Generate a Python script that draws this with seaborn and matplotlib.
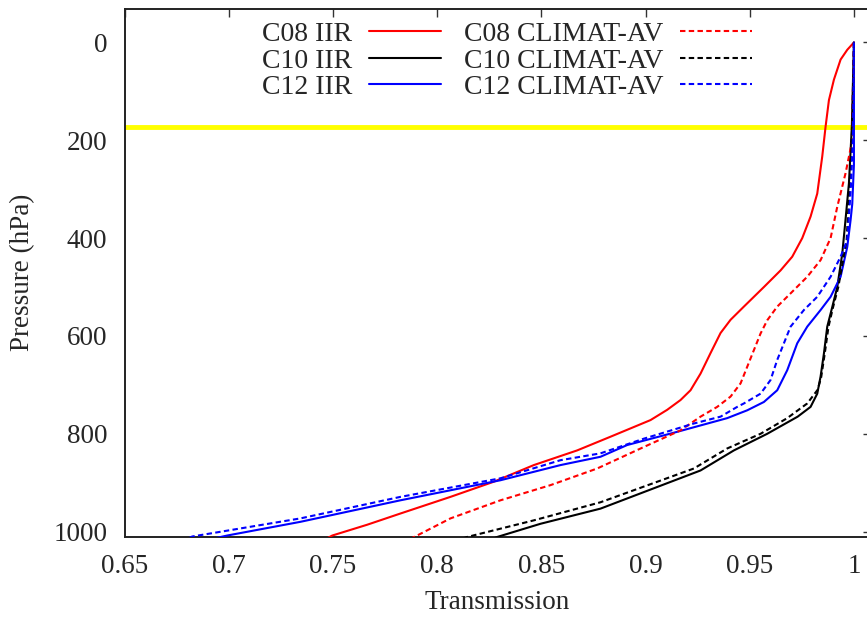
import numpy as np
import pandas as pd
import matplotlib
matplotlib.use("Agg")
import matplotlib.pyplot as plt
import seaborn as sns

# ---- data (transmission vs pressure) ----
c08_iir_T = [1.0, 0.9968, 0.9936, 0.9904, 0.9880, 0.9864, 0.9848, 0.9824, 0.9792, 0.9752, 0.9704, 0.9648,
             0.9568, 0.9472, 0.9408, 0.9360, 0.9312, 0.9264, 0.9216, 0.9168, 0.9104, 0.9024, 0.8832, 0.8672,
             0.8464, 0.8272, 0.8064, 0.7824, 0.7664, 0.7497, 0.7475]
c08_iir_p = [0, 15, 35, 76, 118, 172, 233, 309, 356, 400, 438, 466,
             500, 540, 567, 594, 635, 677, 711, 731, 751, 772, 806, 834,
             864, 898, 929, 963, 986, 1008, 1013]

c08_av_T = [1.0, 0.9995, 0.9992, 0.9960, 0.9920, 0.9888, 0.9840, 0.9776, 0.9696, 0.9632, 0.9584, 0.9552,
            0.9520, 0.9488, 0.9456, 0.9408, 0.9344, 0.9264, 0.9168, 0.8992, 0.8768, 0.8544, 0.8304, 0.8064,
            0.7904, 0.7880]
c08_av_p = [0, 100, 200, 267, 336, 400, 445, 479, 513, 540, 568, 595,
            629, 663, 697, 724, 745, 765, 793, 827, 871, 905, 936, 973,
            1008, 1013]

c10_iir_T = [1.0, 0.9990, 0.9976, 0.9958, 0.9944, 0.9920, 0.9896, 0.9872, 0.9856, 0.9840, 0.9824, 0.9792,
             0.9730, 0.9584, 0.9424, 0.9264, 0.8784, 0.8496, 0.8288, 0.8260]
c10_iir_p = [0, 172, 288, 370, 432, 500, 541, 581, 636, 683, 718, 745,
             765, 800, 834, 875, 953, 984, 1011, 1016]

c10_av_T = [1.0, 0.9992, 0.9980, 0.9965, 0.9950, 0.9925, 0.9900, 0.9878, 0.9860, 0.9843, 0.9826, 0.9776,
            0.9680, 0.9552, 0.9392, 0.9232, 0.8784, 0.8464, 0.8144, 0.8110]
c10_av_p = [0, 172, 288, 404, 440, 500, 541, 581, 636, 684, 710, 738,
            768, 800, 830, 871, 940, 977, 1011, 1016]

c12_iir_T = [1.0, 1.0, 0.9992, 0.9984, 0.9968, 0.9936, 0.9888, 0.9840, 0.9776, 0.9728, 0.9680, 0.9632,
             0.9568, 0.9488, 0.9392, 0.9152, 0.8912, 0.8784, 0.8592, 0.8304, 0.7824, 0.7344, 0.6993, 0.6940]
c12_iir_p = [0, 250, 330, 363, 418, 479, 520, 547, 581, 615, 670, 711,
             735, 752, 768, 796, 823, 847, 864, 895, 936, 980, 1008, 1013]

c12_av_T = [1.0, 0.9995, 0.9985, 0.9968, 0.9936, 0.9888, 0.9824, 0.9760, 0.9696, 0.9664, 0.9632, 0.9600,
            0.9552, 0.9472, 0.9440, 0.9360, 0.9232, 0.8992, 0.8784, 0.8592, 0.8304, 0.7824, 0.7344, 0.6825,
            0.6810]
c12_av_p = [0, 200, 300, 404, 438, 479, 520, 547, 581, 615, 649, 690,
            718, 738, 745, 765, 779, 810, 840, 854, 891, 929, 973, 1010,
            1013]

tropopause_p = 173

series_names = ["C08 IIR", "C10 IIR", "C12 IIR", "C08 CLIMAT-AV", "C10 CLIMAT-AV", "C12 CLIMAT-AV"]
series_T = [c08_iir_T, c10_iir_T, c12_iir_T, c08_av_T, c10_av_T, c12_av_T]
series_p = [c08_iir_p, c10_iir_p, c12_iir_p, c08_av_p, c10_av_p, c12_av_p]
colors = ["#ff0000", "#000000", "#0000ff", "#ff0000", "#000000", "#0000ff"]
dashed = [False, False, False, True, True, True]

x_ticks = [0.65, 0.7, 0.75, 0.8, 0.85, 0.9, 0.95, 1.0]
x_tick_labels = ["0.65", "0.7", "0.75", "0.8", "0.85", "0.9", "0.95", "1"]
y_ticks = [0, 200, 400, 600, 800, 1000]

# ---- style ----
sns.set_theme(style="white")
plt.rcParams["font.family"] = ["Liberation Serif", "DejaVu Serif"]
FS = 19.5
LFS = 20

fig = plt.figure(figsize=(8.67, 6.17), dpi=100)
W, H = 867, 617
ax_left, ax_right = 124.5, 870.6
ax_top, ax_bottom = 8.7, 536.5
ax = fig.add_axes([ax_left / W, 1 - ax_bottom / H, (ax_right - ax_left) / W, (ax_bottom - ax_top) / H])

ax.axhline(tropopause_p, color="#ffff00", lw=3.5, zorder=1)

for name, T, p, c, d in zip(series_names, series_T, series_p, colors, dashed):
    df = pd.DataFrame({"T": T, "p": p})
    sns.lineplot(data=df, x="T", y="p", sort=False, estimator=None, color=c, lw=1.5,
                 label=name, ax=ax, zorder=3)
    if d:
        ax.get_lines()[-1].set_dashes((2.6, 1.6))

ax.set_xlim(0.65, 1.008)
ax.set_ylim(1010, -69)
ax.set_xticks(x_ticks)
ax.set_xticklabels(x_tick_labels)
ax.set_yticks(y_ticks)

ax.tick_params(axis="both", direction="in", top=True, right=True, length=5.8, width=1.0,
               labelsize=FS, color="#333333")
ax.tick_params(axis="x", pad=12.8)
ax.tick_params(axis="y", pad=12.5)
for s in ax.spines.values():
    s.set_linewidth(1.4)
    s.set_color("#222222")

ax.set_xlabel("Transmission", fontsize=FS, labelpad=8)
ax.set_ylabel("Pressure (hPa)", fontsize=FS, labelpad=13)

ax.legend(ncol=2, markerfirst=False, frameon=False, loc="upper left",
          bbox_to_anchor=((262 - ax_left) / (ax_right - ax_left), (ax_bottom - 21.5) / (ax_bottom - ax_top)),
          fontsize=LFS, handlelength=2.6, handletextpad=0.59, columnspacing=0.83,
          labelspacing=0.04, borderpad=0, borderaxespad=0)

fig.savefig("out.png", dpi=100)
